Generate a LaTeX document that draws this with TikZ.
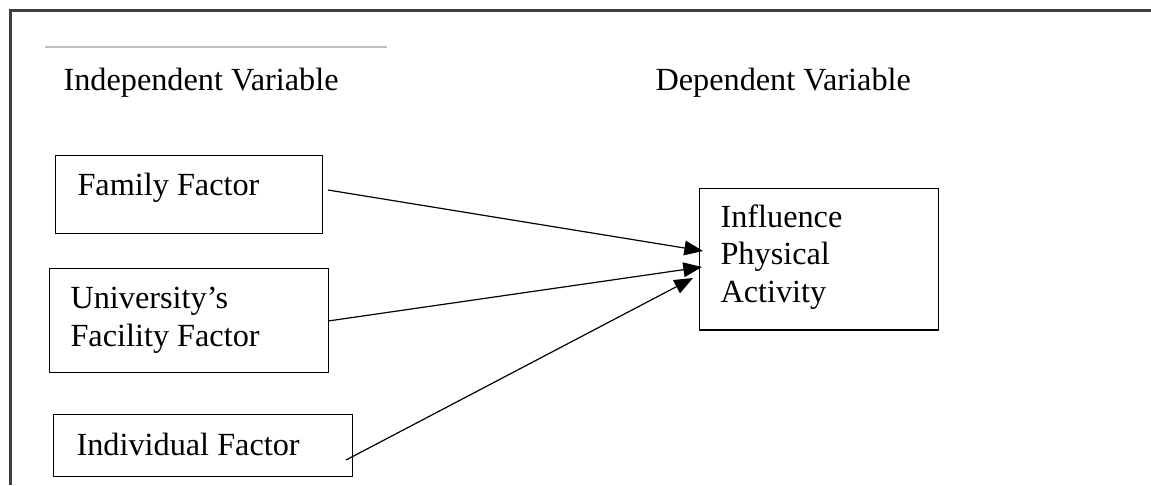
\documentclass[tikz,border=0pt]{standalone}
\usepackage{fontspec}
\setmainfont{Liberation Serif}
\usetikzlibrary{arrows.meta}

\tikzset{
	box/.style={draw, line width=0.55pt, inner sep=0pt, anchor=north west},
	txt/.style={anchor=base west, inner sep=0pt, align=left,
		font=\fontsize{12.1pt}{14pt}\selectfont},
	link/.style={line width=0.45pt, -{Triangle[length=7pt,width=5.5pt]}},
}

\begin{document}
\begin{tikzpicture}[x=0.375pt, y=-0.375pt]
	\useasboundingbox (0,0) rectangle (1151,485);

	% frame and rule
	\draw[line width=0.8pt, black!75] (1151,10.5) -- (10.5,10.5) -- (10.5,485);
	\draw[line width=0.4pt, black!25] (45,47) -- (387,47);

	\node[txt] (indep) at (63,90) {Independent Variable};
	\node[txt] (dep) at (655,90) {Dependent Variable};

	\node[box, minimum width=100.1pt, minimum height=29.25pt] (fam) at (55,155) {};
	\node[box, minimum width=104.6pt, minimum height=39pt] (uni) at (49,268) {};
	\node[box, minimum width=112.1pt, minimum height=23.25pt] (ind) at (53,414) {};
	\node[box, minimum width=89.6pt, minimum height=52.9pt] (inf) at (699,188) {};

	% multi-line texts sit on the baseline of their last line
	\node[txt] (famtxt) at (77,195) {Family Factor};
	\node[txt] (unitxt) at (70,346) {University’s\\Facility Factor};
	\node[txt] (indtxt) at (76,455) {Individual Factor};
	\node[txt] (inftxt) at (720,302) {Influence\\Physical\\Activity};

	\coordinate (f0) at (328,190);
	\coordinate (f1) at (703,251);
	\coordinate (u0) at (328,321);
	\coordinate (u1) at (702,267);
	\coordinate (i0) at (346,460);
	\coordinate (i1) at (693,278);

	\draw[link] (f0) to (f1);
	\draw[link] (u0) to (u1);
	\draw[link] (i0) to (i1);
\end{tikzpicture}
\end{document}
